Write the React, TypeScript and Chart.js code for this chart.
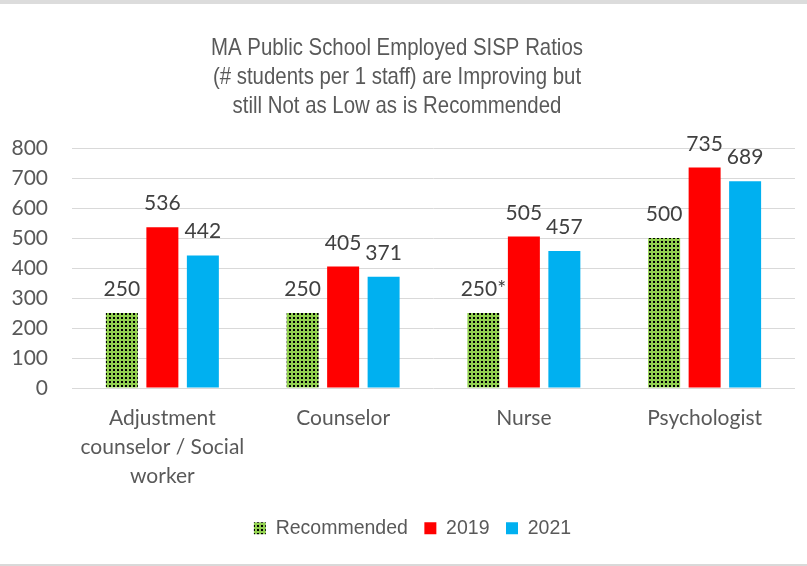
import React, { useEffect, useRef } from "react";
import { Chart, registerables } from "chart.js";

Chart.register(...registerables);

const TITLE_LINES = [
  "MA Public School Employed SISP Ratios",
  "(# students per 1 staff) are Improving but",
  "still Not as Low as is Recommended",
];
const CATEGORIES: string[][] = [
  ["Adjustment", "counselor / Social", "worker"],
  ["Counselor"],
  ["Nurse"],
  ["Psychologist"],
];
const SERIES_NAMES = ["Recommended", "2019", "2021"];
const RECOMMENDED = [250, 250, 250, 500];
const RECOMMENDED_LABELS = ["250", "250", "250*", "500"];
const Y2019 = [536, 405, 505, 735];
const Y2021 = [442, 371, 457, 689];
const Y_TICKS = [0, 100, 200, 300, 400, 500, 600, 700, 800];

const TICK_FONT = "Lato, 'Open Sans', sans-serif";
const ARIAL = "'Liberation Sans', Arial, sans-serif";

function makePattern(): CanvasPattern | string {
  const c = document.createElement("canvas");
  c.width = 4;
  c.height = 4;
  const ctx = c.getContext("2d");
  if (!ctx) return "#92D050";
  ctx.fillStyle = "#92D050";
  ctx.fillRect(0, 0, 4, 4);
  ctx.fillStyle = "#000000";
  ctx.fillRect(1, 1, 2, 2);
  const p = ctx.createPattern(c, "repeat");
  return p || "#92D050";
}

const valueLabels = {
  id: "valueLabels",
  afterDatasetsDraw(chart: any) {
    const ctx = chart.ctx;
    ctx.save();
    ctx.font = `21px ${TICK_FONT}`;
    ctx.fillStyle = "#404040";
    ctx.textAlign = "center";
    ctx.textBaseline = "alphabetic";
    chart.data.datasets.forEach((ds: any, di: number) => {
      const meta = chart.getDatasetMeta(di);
      meta.data.forEach((bar: any, i: number) => {
        const txt = ds.valueLabels ? ds.valueLabels[i] : String(ds.data[i]);
        ctx.fillText(txt, bar.x, bar.y - 17);
      });
    });
    ctx.restore();
  },
};

// Title drawn in a slightly condensed Arial, centred like the original
const condensedTitle = {
  id: "condensedTitle",
  afterDraw(chart: any) {
    const ctx = chart.ctx;
    ctx.save();
    ctx.fillStyle = "#595959";
    ctx.font = `24px ${ARIAL}`;
    ctx.textAlign = "center";
    ctx.textBaseline = "alphabetic";
    const cx = 397;
    const sx = 0.85;
    TITLE_LINES.forEach((line, i) => {
      ctx.save();
      ctx.translate(cx, 55 + i * 29);
      ctx.scale(sx, 1);
      ctx.fillText(line, 0, 0);
      ctx.restore();
    });
    ctx.restore();
  },
};

// Shift the legend row right so it is centred like the original
const legendShift = {
  id: "legendShift",
  afterLayout(chart: any) {
    const lg = chart.legend;
    if (lg) {
      lg.left += 15;
      lg.right += 15;
    }
  },
};

export default function App() {
  const ref = useRef<HTMLCanvasElement | null>(null);
  useEffect(() => {
    if (!ref.current) return;
    const chart = new Chart(ref.current, {
      type: "bar",
      data: {
        labels: CATEGORIES as any,
        datasets: [
          {
            label: SERIES_NAMES[0],
            data: RECOMMENDED,
            backgroundColor: makePattern() as any,
            valueLabels: RECOMMENDED_LABELS,
          } as any,
          { label: SERIES_NAMES[1], data: Y2019, backgroundColor: "#FF0000" },
          { label: SERIES_NAMES[2], data: Y2021, backgroundColor: "#00B0F0" },
        ],
      },
      options: {
        responsive: false,
        animation: false,
        layout: { padding: { left: 0, right: 12, top: 148, bottom: 18 } },
        datasets: { bar: { categoryPercentage: 0.672, barPercentage: 0.79 } },
        plugins: {
          tooltip: { enabled: false },
          title: { display: false },
          legend: {
            position: "bottom",
            labels: {
              color: "#595959",
              font: { family: ARIAL, size: 19.5 },
              boxWidth: 12,
              boxHeight: 12,
              padding: 16.5,
            },
          },
        },
        scales: {
          x: {
            grid: { display: false, drawTicks: false },
            border: { display: false },
            ticks: {
              color: "#595959",
              font: { family: TICK_FONT, size: 21, lineHeight: 1.38 },
              padding: 16,
              maxRotation: 0,
              autoSkip: false,
            },
            afterFit: (s: any) => {
              s.height = 114;
            },
          },
          y: {
            min: 0,
            max: 800,
            afterBuildTicks: (s: any) => {
              s.ticks = Y_TICKS.map((v) => ({ value: v }));
            },
            grid: { color: "#D9D9D9", lineWidth: 1, drawTicks: false },
            border: { display: false },
            ticks: {
              color: "#595959",
              font: { family: TICK_FONT, size: 21 },
              padding: 24,
            },
            afterFit: (s: any) => {
              s.width = 72;
            },
          },
        },
      },
      plugins: [valueLabels, condensedTitle, legendShift],
    });
    return () => chart.destroy();
  }, []);

  return (
    <div
      style={{
        position: "fixed",
        left: 0,
        top: 0,
        width: 807,
        height: 566,
        background: "#ffffff",
        overflow: "hidden",
      }}
    >
      <div style={{ position: "absolute", left: 0, top: 0, width: 807, height: 4, background: "#DCDCDC" }} />
      <canvas ref={ref} width={807} height={566} style={{ position: "absolute", left: 0, top: 0 }} />
      <div style={{ position: "absolute", left: 0, top: 564, width: 807, height: 2, background: "#D9D9D9" }} />
    </div>
  );
}
